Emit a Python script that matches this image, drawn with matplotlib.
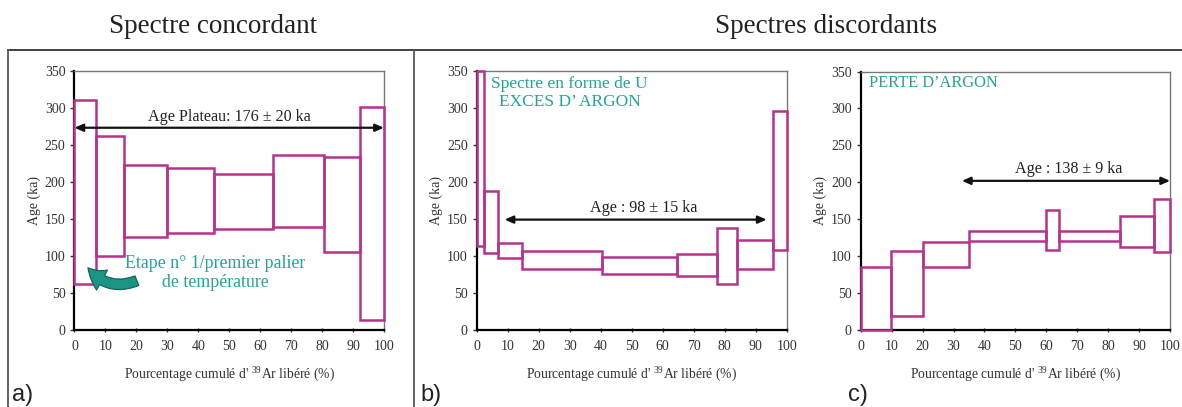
import matplotlib
matplotlib.use("Agg")
import matplotlib.pyplot as plt
from matplotlib.patches import Rectangle, FancyArrowPatch
from matplotlib.lines import Line2D

plt.rcParams['font.family'] = ['Liberation Serif', 'DejaVu Serif']
plt.rcParams['mathtext.fontset'] = 'custom'
plt.rcParams['mathtext.rm'] = 'Liberation Serif'

# step spectra: cumulative % 39Ar edges, age high / low (ka)
a_edges = [0, 7, 16, 29.8, 45, 64, 80.8, 92.4, 100]
a_high = [310, 262, 223, 219, 210, 236, 234, 301]
a_low = [62, 100, 126, 131, 136, 139, 105, 13]

b_edges = [0, 2.2, 6.8, 14.5, 40.5, 64.5, 77.6, 83.8, 95.7, 100]
b_high = [350, 187, 118, 107, 98, 102, 137, 122, 296]
b_low = [113, 104, 97, 82, 76, 73, 62, 83, 108]

c_edges = [0, 9.8, 20, 35, 59.8, 64.2, 83.8, 94.8, 100]
c_high = [85, 107, 119, 134, 162, 134, 155, 178]
c_low = [0, 19, 85, 120, 108, 120, 112, 106]

# plateau arrows
plateau_start = [0, 9, 32.7]
plateau_end = [100, 93.5, 100]
plateau_age = [273, 149, 202]
plateau_label = ["Age Plateau: 176 ± 20 ka", "Age : 98 ± 15 ka", "Age : 138 ± 9 ka"]
plateau_label_x = [50, 53.8, 67.3]
plateau_label_y = [288, 164, 218]

panel_letters = ["a)", "b)", "c)"]
xticks = list(range(0, 101, 10))
yticks = list(range(0, 351, 50))

magenta = '#b8318c'
teal = '#1fa595'

fig = plt.figure(figsize=(11.82, 4.07), dpi=100)

ax_pos = [[0.0630, 0.1892, 0.2618, 0.6371],
          [0.4033, 0.1892, 0.2623, 0.6371],
          [0.7282, 0.1892, 0.2617, 0.6350]]
data = [(a_edges, a_high, a_low), (b_edges, b_high, b_low), (c_edges, c_high, c_low)]
letter_x = [0.0195, 0.365, 0.726]

axes = []
for i in range(3):
    ax = fig.add_axes(ax_pos[i])
    edges, high, low = data[i]
    for k in range(len(high)):
        ax.add_patch(Rectangle((edges[k], low[k]), edges[k+1] - edges[k], high[k] - low[k],
                               fill=False, edgecolor=magenta, lw=1.8, zorder=3, clip_on=False))
    ax.set_xlim(0, 100)
    ax.set_ylim(0, 350)
    ax.set_xticks(xticks)
    ax.set_yticks(yticks)
    ax.tick_params(axis='both', labelsize=10, colors='#333333', length=3, width=1)
    ax.tick_params(axis='x', direction='inout', pad=6)
    for s in ['left', 'bottom']:
        ax.spines[s].set_linewidth(1.6)
        ax.spines[s].set_color('black')
    for s in ['top', 'right']:
        ax.spines[s].set_linewidth(1)
        ax.spines[s].set_color('#777777')
    ax.set_ylabel("Age (ka)", fontsize=10, color='#333333', labelpad=3)
    ax.set_xlabel(r"Pourcentage cumulé d' $^{39}$Ar libéré (%)", fontsize=9.8, color='#333333', labelpad=8)

    ax.annotate("", xy=(plateau_end[i], plateau_age[i]), xytext=(plateau_start[i], plateau_age[i]),
                arrowprops=dict(arrowstyle='<|-|>,head_length=0.5,head_width=0.22', color='#111111', lw=1.6,
                                shrinkA=0, shrinkB=0), annotation_clip=False, zorder=5)
    ax.text(plateau_label_x[i], plateau_label_y[i], plateau_label[i], ha='center', va='center',
            fontsize=11.6, color='#222222', zorder=6)
    fig.text(letter_x[i], 0.03, panel_letters[i], ha='center', va='center', fontsize=17,
             family=['Liberation Sans Narrow', 'Liberation Sans'], color='#222222')
    axes.append(ax)

# annotations
axes[0].text(45.5, 77, "Etape n° 1/premier palier\nde température", ha='center', va='center',
             fontsize=12.8, color=teal, linespacing=1.15)
axes[0].add_patch(FancyArrowPatch((21, 68), (3.8, 87), connectionstyle='arc3,rad=-0.4',
                                  arrowstyle='simple,head_width=1.1,head_length=0.9,tail_width=0.5',
                                  mutation_scale=15, facecolor='#1a9484', edgecolor='#0f5f55', lw=0.8,
                                  zorder=6))
axes[1].text(30, 320, "Spectre en forme de U\nEXCES D\u2019 ARGON", ha='center', va='center',
             fontsize=12.5, color=teal, linespacing=1.2)
axes[2].text(2.7, 334, "PERTE D\u2019ARGON", ha='left', va='center', fontsize=11.8, color=teal)

# titles and frame
fig.text(0.180, 0.934, "Spectre concordant", ha='center', va='center', fontsize=19.5, color='#222222')
fig.text(0.699, 0.934, "Spectres discordants", ha='center', va='center', fontsize=19.5, color='#222222')
fig.add_artist(Line2D([0.0068, 1.0], [0.877, 0.877], color='#333333', lw=1.3))
fig.add_artist(Line2D([0.0068, 0.0068], [0.0, 0.877], color='#555555', lw=1.3))
fig.add_artist(Line2D([0.3503, 0.3503], [0.0, 0.877], color='#555555', lw=1.3))

fig.savefig("out.png", dpi=100)
